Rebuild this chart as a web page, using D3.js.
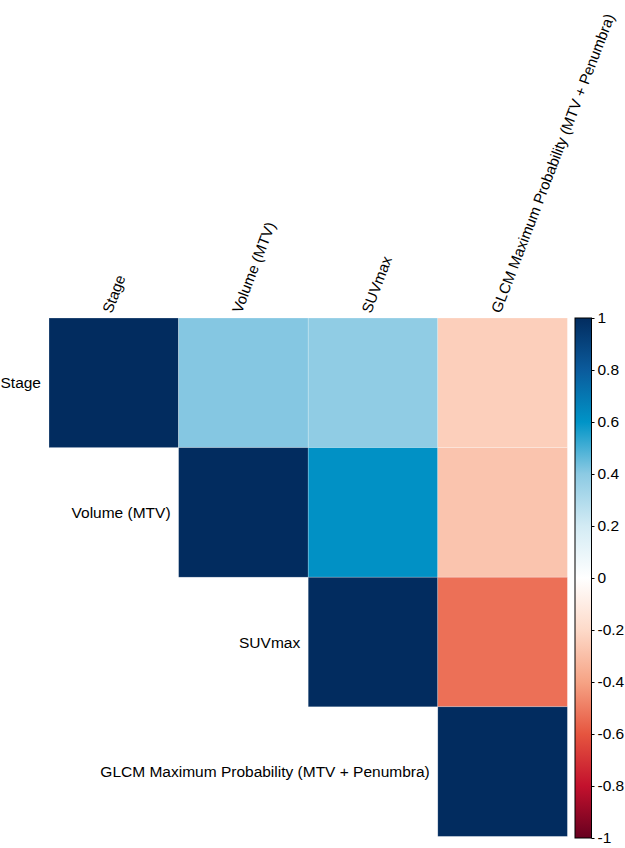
<!DOCTYPE html>
<html>
<head>
<meta charset="utf-8">
<script src="https://cdn.jsdelivr.net/npm/d3@7"></script>
<style>
  html, body { margin: 0; padding: 0; background: #fff; }
  svg { display: block; font-family: "Liberation Sans", Arial, sans-serif; }
</style>
</head>
<body>
<svg id="chart" width="625" height="848"></svg>
<script>
// ---- data ----
const variables = ["Stage", "Volume (MTV)", "SUVmax", "GLCM Maximum Probability (MTV + Penumbra)"];
// upper-triangle correlation values, row i, column j (j >= i)
const rowStage  = [1.00, 0.41, 0.39, -0.24];
const rowVolume = [null, 1.00, 0.61, -0.28];
const rowSUV    = [null, null, 1.00, -0.53];
const rowGLCM   = [null, null, null, 1.00];
const corrRows = [rowStage, rowVolume, rowSUV, rowGLCM];
const colorbarTicks = [1, 0.8, 0.6, 0.4, 0.2, 0, -0.2, -0.4, -0.6, -0.8, -1];
const colorbarTickLabels = ["1", "0.8", "0.6", "0.4", "0.2", "0", "-0.2", "-0.4", "-0.6", "-0.8", "-1"];
const paletteStops  = [-1, -0.8, -0.6, -0.4, -0.2, 0, 0.2, 0.4, 0.6, 0.8, 1];
const paletteColors = ["#67001F", "#C3112D", "#E6553F", "#F6A385", "#FDDAC9", "#FFFFFF",
                       "#D3EBF4", "#8CCAE3", "#0094C7", "#0B5B9C", "#022C5F"];

// ---- layout ----
const svg = d3.select("#chart");
const gridLeft = 49, gridTop = 318, cell = 129.6;
const n = variables.length;
const fontSize = 15.5;
const colFontSize = 15;

const x = d3.scaleBand().domain(d3.range(n)).range([gridLeft, gridLeft + n * cell]);
const y = d3.scaleBand().domain(d3.range(n)).range([gridTop, gridTop + n * cell]);
const color = d3.scaleLinear().domain(paletteStops).range(paletteColors).interpolate(d3.interpolateRgb);

const cells = [];
corrRows.forEach((row, i) => row.forEach((v, j) => { if (v !== null) cells.push({i, j, v}); }));

svg.append("g").selectAll("rect").data(cells).join("rect")
  .attr("x", d => x(d.j))
  .attr("y", d => y(d.i))
  .attr("width", x.bandwidth())
  .attr("height", y.bandwidth())
  .attr("fill", d => color(d.v))
  .attr("stroke", "#ffffff")
  .attr("stroke-opacity", 0.4)
  .attr("stroke-width", 0.6);

// row labels
svg.append("g").selectAll("text").data(variables).join("text")
  .attr("x", (d, i) => x(i) - 8)
  .attr("y", (d, i) => y(i) + y.bandwidth() / 2)
  .attr("text-anchor", "end")
  .attr("dominant-baseline", "central")
  .attr("font-size", fontSize)
  .attr("fill", "#000")
  .text(d => d);

// column labels (rotated)
svg.append("g").selectAll("text").data(variables).join("text")
  .attr("transform", (d, i) => `translate(${x(i) + x.bandwidth() / 2 - 2},${gridTop - 4}) rotate(-69)`)
  .attr("text-anchor", "start")
  .attr("font-size", colFontSize)
  .attr("fill", "#000")
  .text(d => d);

// ---- colorbar ----
const cbX = 575, cbW = 16.5, cbTop = 318, cbBottom = 838;
const cbScale = d3.scaleLinear().domain([1, -1]).range([cbTop, cbBottom]);
const defs = svg.append("defs");
const grad = defs.append("linearGradient").attr("id", "cbgrad")
  .attr("x1", 0).attr("y1", 1).attr("x2", 0).attr("y2", 0);
paletteStops.forEach((s, k) => {
  grad.append("stop").attr("offset", (s + 1) / 2).attr("stop-color", paletteColors[k]);
});
svg.append("rect")
  .attr("x", cbX).attr("y", cbTop).attr("width", cbW).attr("height", cbBottom - cbTop)
  .attr("fill", "url(#cbgrad)")
  .attr("stroke", "#000").attr("stroke-width", 1);

const cbAxis = d3.axisRight(cbScale).tickValues(colorbarTicks).tickSize(3).tickPadding(3)
  .tickFormat((d, k) => colorbarTickLabels[k]);
const axG = svg.append("g").attr("transform", `translate(${cbX + cbW},0)`).call(cbAxis);
axG.select(".domain").remove();
axG.selectAll("text").attr("font-size", fontSize).attr("font-family", "Liberation Sans, Arial, sans-serif").attr("fill", "#000");
axG.selectAll("line").attr("stroke", "#000");
</script>
</body>
</html>
